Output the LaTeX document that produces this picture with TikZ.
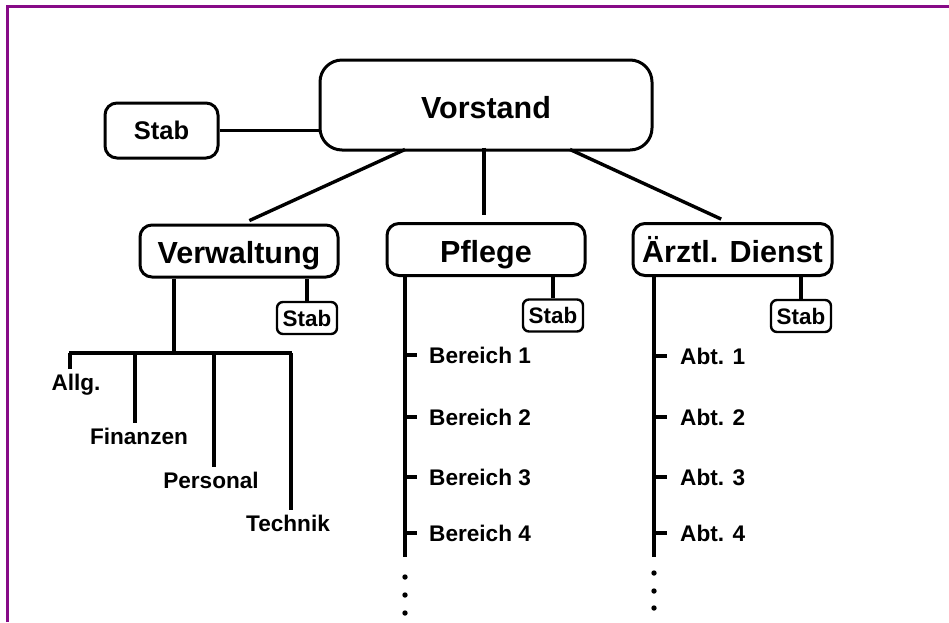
\documentclass[tikz,border=0pt]{standalone}
\usepackage{fontspec}
\setmainfont{Liberation Sans}
\usetikzlibrary{calc}
\definecolor{rahmen}{RGB}{135,10,135}
\newcommand{\punkt}[1]{\fill [black] (#1) circle (2.7pt)}
\newcommand{\gross}{\fontsize{30.5}{36}\selectfont\bfseries}
\newcommand{\mittel}{\fontsize{25.5}{30}\selectfont\bfseries}
\newcommand{\klein}{\fontsize{22.4}{26}\selectfont\bfseries}
\newcommand{\unter}{\fontsize{22.6}{26}\selectfont\bfseries}

\begin{document}
\begin{tikzpicture}[x=1pt,y=-1pt,
    kasten/.style={draw,line width=3pt,rounded corners=12pt,inner sep=0pt,
      text height=25pt,text depth=0pt,font=\gross},
    stabklein/.style={draw,line width=2.4pt,rounded corners=6pt,inner sep=0pt,
      minimum width=60pt,minimum height=32pt,font=\klein},
    eintrag/.style={inner sep=2pt,font=\unter},
    linie/.style={line width=3.4pt}]
    \useasboundingbox (0,0) rectangle (949,622);
    \draw[rahmen,line width=3pt] (7,622) -- (7,6) -- (949,6);

    % Leitung
    \node[kasten,rounded corners=22pt,minimum width=332pt,minimum height=90pt,text height=27pt] (vorstand) at (486,105) {Vorstand};
    \node[kasten,minimum width=113pt,minimum height=55pt,font=\mittel,text height=18.3pt] (stab) at (161.5,130.5) {Stab};
    \draw[linie] (stab) -- (stab -| vorstand.west);

    % Ressorts
    \node[kasten,minimum width=198pt,minimum height=52pt] (verw) at (239,251) {Verwaltung};
    \node[kasten,minimum width=198pt,minimum height=52pt] (pflege) at (486,249.5) {Pflege};
    \node[kasten,minimum width=199pt,minimum height=52pt] (arzt) at (732.5,249.5) {Ärztl. Dienst};

    \draw[linie,shorten >=7pt] ($(vorstand.south)+(-81,-2)$) -- ($(verw.north)+(4,0)$);
    \draw[linie,shorten >=7pt] ($(vorstand.south)+(-2,-4)$) -- ($(pflege.north)+(-2,0)$);
    \draw[linie,shorten >=7pt] ($(vorstand.south)+(84,-2)$) -- ($(arzt.north)+(-5,0)$);

    \node[stabklein] (stabv) at (307,318) {Stab};
    \node[stabklein] (stabp) at (553,315.5) {Stab};
    \node[stabklein] (staba) at (801,316) {Stab};
    \draw[linie] (stabv.north) -- (stabv.north |- verw.south);
    \draw[linie] (stabp.north) -- (stabp.north |- pflege.south);
    \draw[linie] (staba.north) -- (staba.north |- arzt.south);

    % Verwaltung
    \coordinate (vk) at (174,353);
    \draw[linie] (verw.south -| vk) -- (vk);
    \draw[linie] (69,353) -- (292,353);
    \node[eintrag] (allg) at (76,385) {Allg.};
    \node[eintrag] (fin) at (139,436) {Finanzen};
    \node[eintrag] (pers) at (211,480) {Personal};
    \node[eintrag] (tech) at (288,523) {Technik};
    \draw[linie] (70,353) -- (70,369);
    \draw[linie] (135,353) -- (135,423);
    \draw[linie] (214,353) -- (214,467);
    \draw[linie] (291,353) -- (291,510);

    % Pflege
    \coordinate (pk) at (405,557);
    \draw[linie] (pflege.south -| pk) -- (pk);
    \foreach \y/\n in {355/1,417/2,477/3,533/4}{
      \node[eintrag,anchor=west] (b\n) at (427,\y) {Bereich \n};
      \draw[linie] (b\n.west -| pk) -- ++(12,0);
    }
    \punkt{405,577};
    \punkt{405,595};
    \punkt{405,613};

    % Aerztlicher Dienst
    \coordinate (ak) at (654,557);
    \draw[linie] (arzt.south -| ak) -- (ak);
    \foreach \y/\n in {356/1,417/2,477/3,533/4}{
      \node[eintrag,anchor=west] (a\n) at (678,\y) {Abt. \n};
      \draw[linie] (a\n.west -| ak) -- ++(13,0);
    }
    \punkt{654,573};
    \punkt{654,591};
    \punkt{654,608};
\end{tikzpicture}
\end{document}
